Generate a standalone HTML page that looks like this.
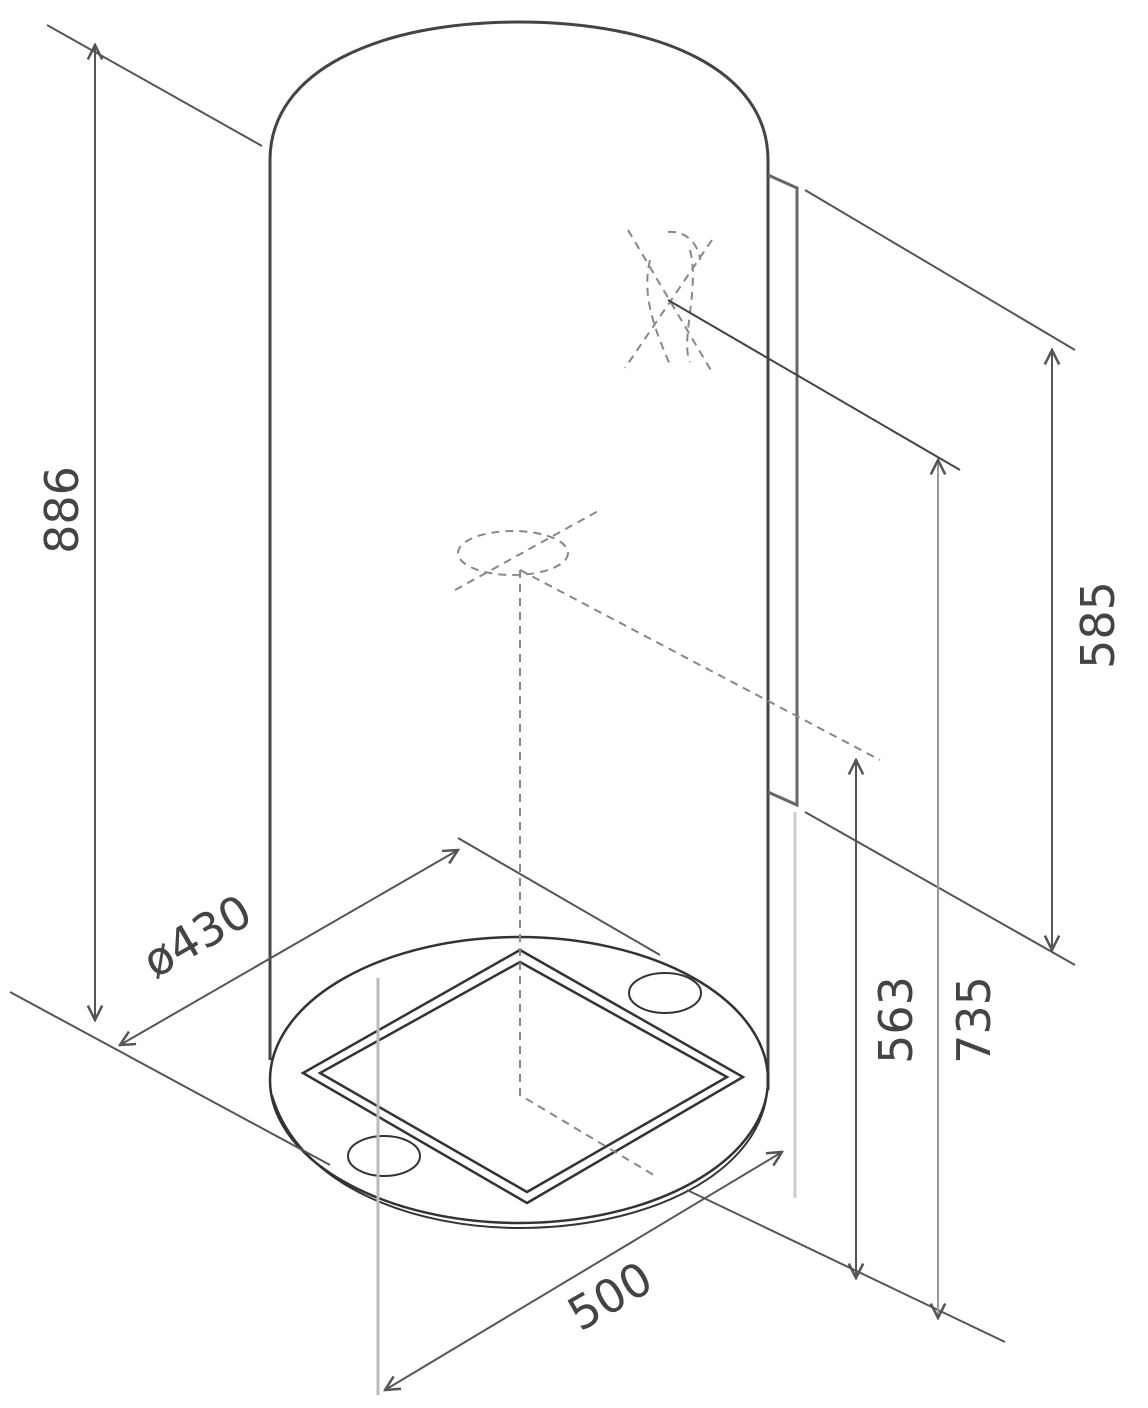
<!DOCTYPE html>
<html><head><meta charset="utf-8"><style>
html,body{margin:0;padding:0;background:#fff}
svg{display:block}
text{font-family:"DejaVu Sans","Liberation Sans",sans-serif;fill:#444;font-size:46px}
</style></head><body>
<svg width="1148" height="1408" viewBox="0 0 1148 1408" xmlns="http://www.w3.org/2000/svg">
<defs>
<marker id="a" viewBox="0 0 10 10" refX="9" refY="5" markerWidth="9" markerHeight="9" orient="auto-start-reverse"><path d="M1,1 L9,5 L1,9" fill="none" stroke="#555" stroke-width="1.4"/></marker>
</defs>
<g fill="none" stroke="#555" stroke-width="2">
<path d="M270,1060 L270,160 C270,70 380,22 518,22 C660,22 768,70 768,160 L768,1090" stroke="#444" stroke-width="3"/>
<path d="M768,175 L797,188 L797,805 L768,792" stroke="#666" stroke-width="3"/>
<ellipse cx="519" cy="1080" rx="249" ry="143" stroke="#333" stroke-width="2.5"/>
<path d="M272,1095 C300,1190 420,1228 519,1228 C640,1228 750,1180 766,1100" stroke="#333" stroke-width="2"/>
<path d="M520,950 L743,1077 L527,1203 L303,1073 Z" stroke="#333" stroke-width="2.5"/>
<path d="M520,962 L727,1077 L527,1192 L320,1073 Z" stroke="#333" stroke-width="2.5"/>
<ellipse cx="665" cy="993" rx="36" ry="20" stroke="#333"/>
<ellipse cx="384" cy="1156" rx="36" ry="20" stroke="#333"/>
<line x1="378" y1="978" x2="378" y2="1395" stroke="#bbb" stroke-width="3"/>
<line x1="795" y1="812" x2="795" y2="1198" stroke="#ccc" stroke-width="3"/>
<g stroke="#888" stroke-dasharray="8,6" stroke-width="2">
<path d="M520,570 L520,1095 L657,1177"/>
<path d="M520,570 L880,760"/>
<ellipse cx="513" cy="553" rx="55" ry="22"/>
<path d="M455,590 L600,510"/>
<path d="M628,230 L712,372 M712,240 L625,368"/>
<path d="M650,260 C640,300 660,340 670,365 M690,250 C700,290 680,340 690,362 M668,232 C690,230 700,250 700,260"/>
</g>
<line x1="47" y1="25" x2="262" y2="146"/>
<line x1="10" y1="992" x2="330" y2="1165"/>
<line x1="458" y1="838" x2="660" y2="955"/>
<line x1="805" y1="190" x2="1075" y2="350"/>
<line x1="668" y1="300" x2="960" y2="470" stroke="#444"/>
<line x1="805" y1="812" x2="1075" y2="965"/>
<line x1="687" y1="1190" x2="1005" y2="1342"/>
<line x1="95" y1="45" x2="95" y2="1020" marker-start="url(#a)" marker-end="url(#a)"/>
<line x1="120" y1="1045" x2="458" y2="850" marker-start="url(#a)" marker-end="url(#a)"/>
<line x1="385" y1="1390" x2="782" y2="1152" marker-start="url(#a)" marker-end="url(#a)"/>
<line x1="1052" y1="350" x2="1052" y2="950" marker-start="url(#a)" marker-end="url(#a)"/>
<line x1="938" y1="460" x2="938" y2="1318" marker-start="url(#a)" marker-end="url(#a)" stroke="#999"/>
<line x1="856" y1="760" x2="856" y2="1278" marker-start="url(#a)" marker-end="url(#a)"/>
</g>
<text transform="translate(78,510) rotate(-90)" text-anchor="middle">886</text>
<text transform="translate(205,950) rotate(-30)" text-anchor="middle">ø430</text>
<text transform="translate(618,1310) rotate(-30)" text-anchor="middle">500</text>
<text transform="translate(1114,625) rotate(-90)" text-anchor="middle">585</text>
<text transform="translate(990,1020) rotate(-90)" text-anchor="middle">735</text>
<text transform="translate(912,1020) rotate(-90)" text-anchor="middle">563</text>
</svg>
</body></html>
